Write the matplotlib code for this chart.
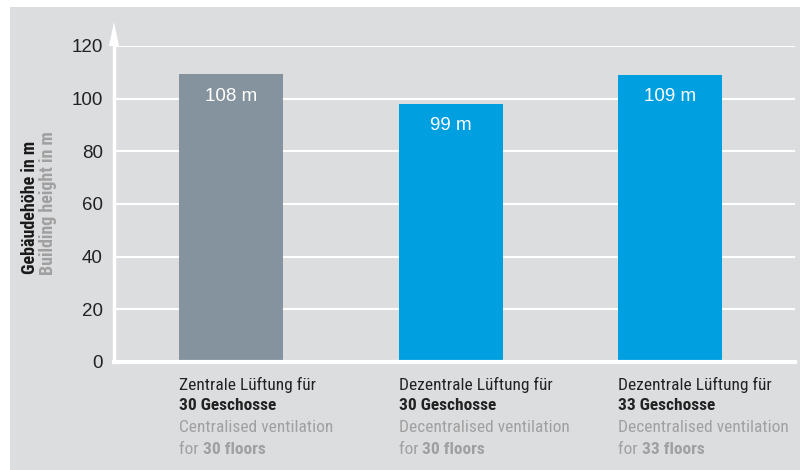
import matplotlib
matplotlib.use("Agg")
import matplotlib.pyplot as plt
from matplotlib.patches import Rectangle, Polygon

# data
categories_de = ["Zentrale Lüftung für", "Dezentrale Lüftung für", "Dezentrale Lüftung für"]
categories_de_bold = ["30 Geschosse", "30 Geschosse", "33 Geschosse"]
categories_en = ["Centralised ventilation", "Decentralised ventilation", "Decentralised ventilation"]
floors_en = ["30 floors", "30 floors", "33 floors"]
heights = [109.3, 98.1, 109.0]
height_labels = ["108 m", "99 m", "109 m"]
bar_colors = ["#84939d", "#009fe0", "#009fe0"]
yticks = [0, 20, 40, 60, 80, 100, 120]

panel = "#dcdddf"
cond = ["Liberation Sans Narrow", "Roboto Condensed", "Archivo Narrow", "DejaVu Sans"]
reg = ["Liberation Sans", "DejaVu Sans"]

fig = plt.figure(figsize=(8, 4.7), dpi=100)
fig.patch.set_facecolor("white")
fig.patches.append(Rectangle((10 / 800, 0), 1, 463 / 470, transform=fig.transFigure,
                             facecolor=panel, edgecolor="none", zorder=-10))

ax = fig.add_axes([114 / 800, 108 / 470, 681 / 800, 316 / 470])
ax.set_facecolor("none")

x = range(len(heights))
ax.bar(x, heights, width=0.474, color=bar_colors, zorder=3)
ax.set_xlim(-0.533, 2.569)
ax.set_ylim(0, 120)
ax.set_yticks(yticks)
ax.set_yticklabels([str(t) for t in yticks], family=reg, fontsize=13.5, color="#222222")
ax.tick_params(axis="y", length=0, pad=8)
ax.set_xticks([])
ax.grid(axis="y", color="white", linewidth=1.5, zorder=1)
for s in ["top", "right"]:
    ax.spines[s].set_visible(False)
ax.spines["left"].set_color("white")
ax.spines["left"].set_linewidth(2.5)
ax.spines["bottom"].set_color("white")
ax.spines["bottom"].set_linewidth(3)
ax.spines["left"].set_zorder(4)
ax.spines["bottom"].set_zorder(4)

# arrow head on y axis
arrow = Polygon([[109 / 800, 1 - 46 / 470], [114 / 800, 1 - 22 / 470], [119 / 800, 1 - 46 / 470]],
                closed=True, transform=fig.transFigure, facecolor="white", edgecolor="none", zorder=5)
fig.patches.append(arrow)

# value labels inside bars
for i, (h, lab) in enumerate(zip(heights, height_labels)):
    ax.annotate(lab, (i, h), xytext=(0, -22), textcoords="offset pixels",
                ha="center", va="center", color="white", fontsize=13.5, family=reg, zorder=5)

# y axis labels
fig.text(30 / 800, 1 - 207 / 470, "Gebäudehöhe in m", rotation=90, ha="center", va="center",
         family=cond, fontsize=13, fontweight="bold", color="#1a1a1a")
fig.text(48 / 800, 1 - 203 / 470, "Building height in m", rotation=90, ha="center", va="center",
         family=cond, fontsize=13, fontweight="bold", color="#a0a0a0")

# category labels
fig.canvas.draw()
renderer = fig.canvas.get_renderer()
line_y = [385, 406, 428, 450]
for i in x:
    left = i - 0.237
    ax.annotate(categories_de[i], (left, 0), xytext=(0, -(line_y[0] - 362)), textcoords="offset pixels",
                ha="left", va="center", family=cond, fontsize=12.5, color="#222222", annotation_clip=False)
    ax.annotate(categories_de_bold[i], (left, 0), xytext=(0, -(line_y[1] - 362)), textcoords="offset pixels",
                ha="left", va="center", family=cond, fontsize=12.5, fontweight="bold", color="#222222",
                annotation_clip=False)
    ax.annotate(categories_en[i], (left, 0), xytext=(0, -(line_y[2] - 362)), textcoords="offset pixels",
                ha="left", va="center", family=cond, fontsize=12.5, color="#a0a0a0", annotation_clip=False)
    t = ax.annotate("for ", (left, 0), xytext=(0, -(line_y[3] - 362)), textcoords="offset pixels",
                    ha="left", va="center", family=cond, fontsize=12.5, color="#a0a0a0", annotation_clip=False)
    w = t.get_window_extent(renderer).width
    ax.annotate(floors_en[i], (left, 0), xytext=(w, -(line_y[3] - 362)), textcoords="offset pixels",
                ha="left", va="center", family=cond, fontsize=12.5, fontweight="bold", color="#a0a0a0",
                annotation_clip=False)

fig.savefig("out.png", dpi=100, facecolor=fig.get_facecolor())
